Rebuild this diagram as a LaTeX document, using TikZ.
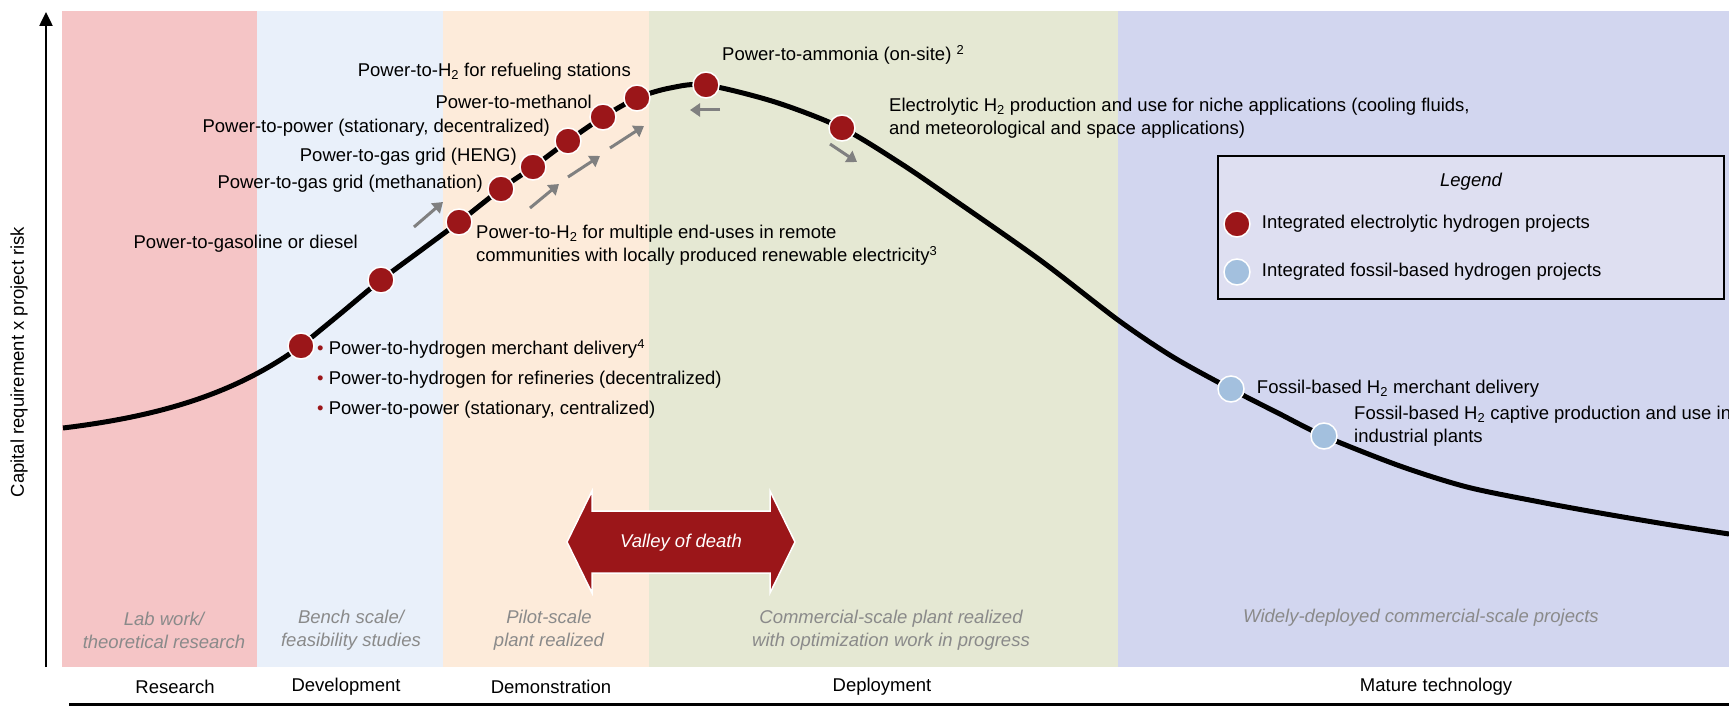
\documentclass[tikz,border=0pt]{standalone}
\usepackage{fontspec}
\setmainfont{Liberation Sans}
\usetikzlibrary{positioning,arrows.meta}
\definecolor{bandred}{RGB}{245,197,198}
\definecolor{bandblue}{RGB}{233,240,250}
\definecolor{bandorange}{RGB}{253,235,218}
\definecolor{bandgreen}{RGB}{229,232,211}
\definecolor{bandpurple}{RGB}{210,214,239}
\definecolor{legendbg}{RGB}{222,223,241}
\definecolor{dotred}{RGB}{155,22,25}
\definecolor{dotblue}{RGB}{163,192,222}
\definecolor{labelgray}{RGB}{138,138,138}
\definecolor{hintgray}{RGB}{128,128,128}

\begin{document}
\begin{tikzpicture}[x=1pt, y=-1pt,
  txt/.style={font=\fontsize{18.5}{23}\selectfont, inner sep=0pt, align=left},
  stage/.style={txt, align=center, text=labelgray, font=\fontsize{18.5}{23}\selectfont\itshape},
  phase/.style={txt, align=center},
  h2dot/.style={circle, draw=white, line width=1.5pt, fill=dotred, minimum size=26pt, inner sep=0pt},
  fossildot/.style={h2dot, fill=dotblue},
  trend/.style={draw=hintgray, line width=3pt, -{Triangle[length=10pt, width=13pt]}}
]
\useasboundingbox (0,0) rectangle (1729,706);

\foreach \xa/\xb/\col in {62/257/bandred, 257/443/bandblue, 443/649/bandorange, 649/1118/bandgreen, 1118/1729/bandpurple}
  \fill[\col] (\xa,11) rectangle (\xb,667);

\node[stage] (lab) at (164,630) {Lab work/\\theoretical research};
\node[stage] (bench) at (351,630) {Bench scale/\\feasibility studies};
\node[stage] (pilot) at (549,630) {Pilot-scale\\plant realized};
\node[stage] (commercial) at (891,630) {Commercial-scale plant realized\\with optimization work in progress};
\node[stage] (widely) at (1421,618) {Widely-deployed commercial-scale projects};

\node[phase] (research) at (175,687) {Research};
\node[phase] (development) at (346,687) {Development};
\node[phase] (demonstration) at (551,687) {Demonstration};
\node[phase] (deployment) at (882,687) {Deployment};
\node[phase] (mature) at (1436,687) {Mature technology};

\draw[line width=2.5pt, -{Triangle[length=14pt, width=13pt]}] (46,667) -- (46,12);
\node[txt, rotate=90] (ylab) at (19,362) {Capital requirement x project risk};
\draw[line width=3pt] (69,704) -- (1729,704);

\foreach \n/\x/\y in {1/301/346, 2/381/280, 3/459/222, 4/501/189, 5/533/167, 6/568/141, 7/603/117, 8/637/98, 9/706/85, 10/842/128}
  \coordinate (p\n) at (\x,\y);
\coordinate (q1) at (1231,389);
\coordinate (q2) at (1324,436);

\draw[line width=5pt] (63,428) .. controls (170,415) and (240,390) .. (p1)
  -- plot[smooth, tension=0.5] coordinates {(p1) (340,314) (p2) (420,251) (p3) (p4) (p5) (p6) (p7) (p8) (670,88) (p9) (775,102) (p10) (900,163) (950,197) (1040,260) (1118,320) (1173,357) (q1) (1278,413) (q2) (1400,466) (1467,487) (1540,502) (1600,513) (1665,524) (1729,534)};

\foreach \n in {1,...,10}
  \node[h2dot] (d\n) at (p\n) {};
\node[fossildot] (f1) at (q1) {};
\node[fossildot] (f2) at (q2) {};

\draw[trend] (414,227) -- (443,202);
\draw[trend] (530,208) -- (559,184);
\draw[trend] (568,177) -- (600,156);
\draw[trend] (610,148) -- (644,126);
\draw[trend] (720,110) -- (690,110);
\draw[trend] (830,144) -- (857,162);

\node[txt, anchor=east] (fuel) at (631,72) {Power-to-H\textsubscript{2} for refueling stations};
\node[txt, anchor=east] (methanol) at (592,102) {Power-to-methanol};
\node[txt, anchor=east] (decentral) at (550,128) {Power-to-power (stationary, decentralized)};
\node[txt, anchor=east] (heng) at (517,157) {Power-to-gas grid (HENG)};
\node[txt, anchor=east] (methanation) at (483,184) {Power-to-gas grid (methanation)};
\node[txt, anchor=east] (gasoline) at (358,244) {Power-to-gasoline or diesel};
\node[txt, anchor=west] (remote) at (476,245) {Power-to-H\textsubscript{2} for multiple end-uses in remote\\communities with locally produced renewable electricity\textsuperscript{3}};
\node[txt, anchor=west] (ammonia) at (722,55) {Power-to-ammonia (on-site) \textsuperscript{2}};
\node[txt, anchor=west] (niche) at (889,118.5) {Electrolytic H\textsubscript{2} production and use for niche applications (cooling fluids,\\and meteorological and space applications)};
\node[txt, anchor=west] (merchant) at (317,379) {\textcolor{dotred}{\textbullet} Power-to-hydrogen merchant delivery\textsuperscript{4}\\[7pt]
  \textcolor{dotred}{\textbullet} Power-to-hydrogen for refineries (decentralized)\\[7pt]
  \textcolor{dotred}{\textbullet} Power-to-power (stationary, centralized)};
\node[txt, right=12pt of f1] (fossilmerchant) {Fossil-based H\textsubscript{2} merchant delivery};
\node[txt, anchor=west] (captive) at (1354,426.5) {Fossil-based H\textsubscript{2} captive production and use in\\industrial plants};

\fill[dotred, draw=white, line width=1.5pt] (567,542) -- (592,491) -- (592,511) -- (770,511) -- (770,491) -- (795,542) -- (770,593) -- (770,573) -- (592,573) -- (592,593) -- cycle;
\node[txt, text=white, font=\fontsize{18.5}{23}\selectfont\itshape] (valley) at (681,543) {Valley of death};

\node[draw=black, line width=1.5pt, fill=legendbg, minimum width=506pt, minimum height=143pt, inner sep=0pt] (legend) at (1471,227.5) {};
\node[txt, font=\fontsize{18.5}{23}\selectfont\itshape] (legendtitle) at (1471,182) {Legend};
\node[h2dot] (leg1) at (1237,224) {};
\node[txt, right=11pt of leg1] (leg1txt) {Integrated electrolytic hydrogen projects};
\node[fossildot] (leg2) at (1237,272) {};
\node[txt, right=11pt of leg2] (leg2txt) {Integrated fossil-based hydrogen projects};
\end{tikzpicture}
\end{document}
